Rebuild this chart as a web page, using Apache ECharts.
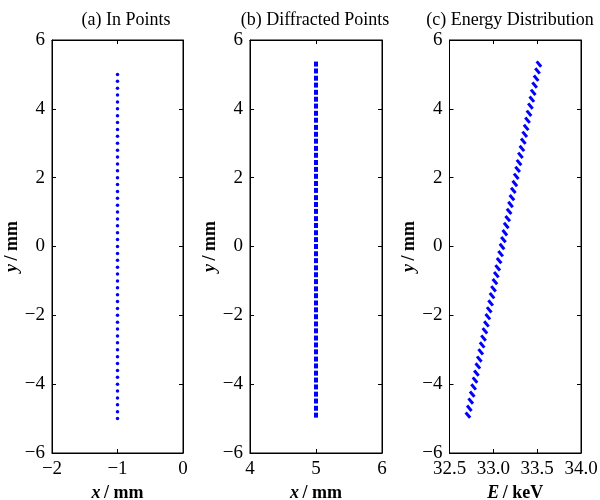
<!DOCTYPE html>
<html><head><meta charset="utf-8">
<script src="https://cdn.jsdelivr.net/npm/echarts@6/dist/echarts.min.js"></script>
<style>html,body{margin:0;padding:0;background:#fff}#c{width:600px;height:500px}</style>
</head><body><div id="c"></div>
<script>
// ---- data ----
const titles = ['(a) In Points', '(b) Diffracted Points', '(c) Energy Distribution'];
const yTicks = [-6, -4, -2, 0, 2, 4, 6];
const inX = -1;          // mm, panel (a)
const diffX = 5;         // mm, panel (b)
const inY = [-5.0,-4.8,-4.6,-4.4,-4.2,-4.0,-3.8,-3.6,-3.4,-3.2,-3.0,-2.8,-2.6,-2.4,-2.2,-2.0,-1.8,-1.6,-1.4,-1.2,-1.0,-0.8,-0.6,-0.4,-0.2,0.0,
  0.2,0.4,0.6,0.8,1.0,1.2,1.4,1.6,1.8,2.0,2.2,2.4,2.6,2.8,3.0,3.2,3.4,3.6,3.8,4.0,4.2,4.4,4.6,4.8,5.0];
const diffY = [-4.90,-4.70,-4.49,-4.29,-4.08,-3.88,-3.68,-3.47,-3.27,-3.06,-2.86,-2.66,-2.45,-2.25,-2.04,-1.84,-1.64,-1.43,-1.23,-1.02,-0.82,-0.62,-0.41,-0.21,0.00,
  0.20,0.40,0.61,0.81,1.02,1.22,1.42,1.63,1.83,2.04,2.24,2.44,2.65,2.85,3.06,3.26,3.46,3.67,3.87,4.08,4.28,4.48,4.69,4.89,5.10,5.30];
const energy = [32.710,32.726,32.742,32.759,32.775,32.791,32.807,32.823,32.840,32.856,32.872,32.888,32.904,32.921,32.937,32.953,32.969,32.985,33.002,33.018,33.034,33.050,33.066,33.083,33.099,
  33.115,33.131,33.147,33.164,33.180,33.196,33.212,33.228,33.245,33.261,33.277,33.293,33.309,33.326,33.342,33.358,33.374,33.390,33.407,33.423,33.439,33.455,33.471,33.488,33.504,33.520];
const xRanges = [[-2, 0, 1], [4, 6, 1], [32.5, 34.0, 0.5]];

// ---- chart ----
const FONT = "'Liberation Serif', 'Times New Roman', serif";
const grids = [
  {left: 52, top: 40, width: 131, height: 413},
  {left: 250, top: 40, width: 132, height: 413},
  {left: 449.5, top: 40, width: 131.5, height: 413}
];
const titleCenters = [121, 310, 505];
const minus = v => String(v).replace('-', '\u2212');
const xNames = ['{i|x} {b|/ mm}', '{i|x} {b|/ mm}', '{i|E} {b|/ keV}'];
const rich = {
  i: {fontFamily: FONT, fontSize: 18, fontWeight: 'bold', fontStyle: 'italic', color: '#000'},
  b: {fontFamily: FONT, fontSize: 18, fontWeight: 'bold', color: '#000'}
};
const xAxis = [], yAxis = [], title = [];
grids.forEach((g, k) => {
  g.show = true; g.borderColor = '#000'; g.borderWidth = 1; g.containLabel = false; g.outerBoundsMode = 'none';
  const [mn, mx, iv] = xRanges[k];
  xAxis.push({
    type: 'value', gridIndex: k, min: mn, max: mx, interval: iv, position: 'bottom',
    name: xNames[k], nameLocation: 'middle', nameGap: 28, nameTextStyle: {rich},
    axisLine: {show: true, onZero: false, lineStyle: {color: '#000', width: 1}},
    axisTick: {show: true, inside: true, length: 4, lineStyle: {color: '#000'}},
    axisLabel: {fontFamily: FONT, fontSize: 19, color: '#000', margin: 7,
      formatter: v => k === 2 ? v.toFixed(1) : minus(v)},
    splitLine: {show: false}
  });
  xAxis.push({
    type: 'value', gridIndex: k, min: mn, max: mx, interval: iv, position: 'top',
    axisLine: {show: true, onZero: false, lineStyle: {color: '#000'}},
    axisTick: {show: true, inside: true, length: 4, lineStyle: {color: '#000'}},
    axisLabel: {show: false}, splitLine: {show: false}
  });
  yAxis.push({
    type: 'value', gridIndex: k, min: -6, max: 6, interval: 2, position: 'left',
    name: '{i|y} {b|/ mm}', nameLocation: 'middle', nameGap: 29, nameRotate: 90, nameTextStyle: {rich},
    axisLine: {show: true, onZero: false, lineStyle: {color: '#000', width: 1}},
    axisTick: {show: true, inside: true, length: 4, lineStyle: {color: '#000'}},
    axisLabel: {fontFamily: FONT, fontSize: 19, color: '#000', margin: 7, formatter: minus},
    splitLine: {show: false}
  });
  yAxis.push({
    type: 'value', gridIndex: k, min: -6, max: 6, interval: 2, position: 'right',
    axisLine: {show: true, onZero: false, lineStyle: {color: '#000'}},
    axisTick: {show: true, inside: true, length: 4, lineStyle: {color: '#000'}},
    axisLabel: {show: false}, splitLine: {show: false}
  });
  title.push({
    text: titles[k], left: titleCenters[k], top: 6, textAlign: 'center',
    textStyle: {fontFamily: FONT, fontSize: 18, fontWeight: 'normal', color: '#000'}
  });
});

const series = [
  {type: 'scatter', xAxisIndex: 0, yAxisIndex: 0, data: inY.map(y => [inX, y]),
   symbol: 'circle', symbolSize: 3.5, itemStyle: {color: '#0000ff', opacity: 1}, silent: true},
  {type: 'scatter', xAxisIndex: 2, yAxisIndex: 2, data: diffY.map(y => [diffX, y]),
   symbol: 'rect', symbolSize: [4, 5], itemStyle: {color: '#0000ff', opacity: 1}, silent: true},
  {type: 'scatter', xAxisIndex: 4, yAxisIndex: 4, data: diffY.map((y, i) => [energy[i], y]),
   symbol: 'rect', symbolSize: [7, 3], symbolRotate: -50, itemStyle: {color: '#0000ff', opacity: 1}, silent: true}
];

const chart = echarts.init(document.getElementById('c'), null, {renderer: 'canvas'});
chart.setOption({animation: false, backgroundColor: '#fff', title, grid: grids, xAxis, yAxis, series});
</script></body></html>
